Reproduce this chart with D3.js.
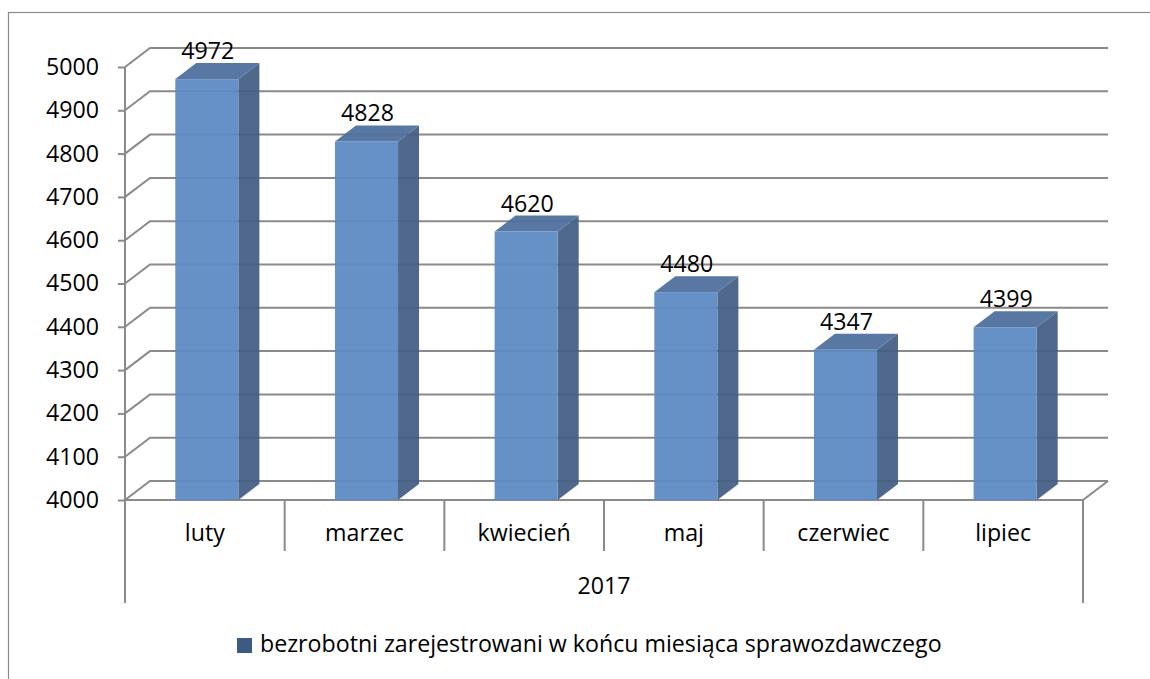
<!DOCTYPE html>
<html>
<head>
<meta charset="utf-8">
<script src="https://d3js.org/d3.v7.min.js"></script>
<style>
  body { margin: 0; background: #fff; }
  text { font-family: "Open Sans", Lato, sans-serif; fill: #000; }
</style>
</head>
<body>
<div id="chart"></div>
<script>
// data
var months = ["luty", "marzec", "kwiecień", "maj", "czerwiec", "lipiec"];
var values = [4972, 4828, 4620, 4480, 4347, 4399];
var yTicks = [4000, 4100, 4200, 4300, 4400, 4500, 4600, 4700, 4800, 4900, 5000];
var groupLabel = "2017";
var seriesName = "bezrobotni zarejestrowani w końcu miesiąca sprawozdawczego";

var W = 1150, H = 679;
var wallDx = 25, wallDy = -19;   // depth of the 3d floor / walls
var barDx = 21, barDy = -16;     // depth of each column
var grid = "#8a8a8a";
var fs = "23.2px";

var svg = d3.select("#chart").append("svg")
    .attr("width", W)
    .attr("height", H);

// outer frame (runs off the right and bottom edge)
svg.append("rect")
    .attr("x", 8.5).attr("y", 12.5)
    .attr("width", 1300).attr("height", 800)
    .attr("fill", "#fff")
    .attr("stroke", "#8c8c8c")
    .attr("stroke-width", 1.2);

var x = d3.scaleBand()
    .domain(months)
    .range([125, 1083]);

var y = d3.scaleLinear()
    .domain([4000, 5000])
    .range([500, 67]);

var bw = x.bandwidth();

// back wall gridlines with the diagonal on the side wall
var gl = svg.append("g")
    .attr("fill", "none")
    .attr("stroke", grid)
    .attr("stroke-width", 2);

gl.selectAll("path.grid")
  .data(yTicks)
  .enter()
  .append("path")
    .attr("class", "grid")
    .attr("d", function(t) {
      var yy = y(t);
      return "M" + x.range()[0] + "," + yy +
             "L" + (x.range()[0] + wallDx) + "," + (yy + wallDy) +
             "L" + (x.range()[1] + wallDx) + "," + (yy + wallDy);
    });

// floor front edge and right diagonal
gl.append("path")
    .attr("d", "M" + x.range()[0] + "," + y(4000) +
               "L" + x.range()[1] + "," + y(4000) +
               "L" + (x.range()[1] + wallDx) + "," + (y(4000) + wallDy));

// value axis
var yAxis = d3.axisLeft(y)
    .tickValues(yTicks)
    .tickSize(7)
    .tickSizeOuter(0)
    .tickPadding(19)
    .tickFormat(d3.format("d"));

var ya = svg.append("g")
    .attr("transform", "translate(125,0)")
    .call(yAxis);

ya.select(".domain").remove();
ya.selectAll(".tick line").attr("stroke", grid).attr("stroke-width", 2);
ya.selectAll(".tick text")
    .style("font-size", fs)
    .style("font-family", "'Open Sans', Lato, sans-serif")
    .attr("fill", "#000");

// columns
var bars = svg.append("g").selectAll("g.bar")
  .data(values)
  .enter()
  .append("g")
    .attr("class", "bar");

function left(d, i) { return x(months[i]) + bw * 0.315; }
function right(d, i) { return x(months[i]) + bw * 0.71; }

bars.append("path")
    .attr("fill", "#465f86")
    .attr("fill-opacity", 0.94)
    .attr("d", function(d, i) {
      var r = right(d, i), t = y(d), b = y(4000);
      return "M" + r + "," + t + "L" + (r + barDx) + "," + (t + barDy) +
             "L" + (r + barDx) + "," + (b + barDy) + "L" + r + "," + b + "Z";
    });

bars.append("path")
    .attr("fill", "#4e6f9c")
    .attr("fill-opacity", 0.94)
    .attr("d", function(d, i) {
      var l = left(d, i), r = right(d, i), t = y(d);
      return "M" + l + "," + t + "L" + (l + barDx) + "," + (t + barDy) +
             "L" + (r + barDx) + "," + (t + barDy) + "L" + r + "," + t + "Z";
    });

bars.append("rect")
    .attr("fill", "#5b8ac4")
    .attr("fill-opacity", 0.94)
    .attr("x", left)
    .attr("y", function(d) { return y(d); })
    .attr("width", function(d, i) { return right(d, i) - left(d, i); })
    .attr("height", function(d) { return y(4000) - y(d); });

// value labels
bars.append("text")
    .attr("text-anchor", "middle")
    .style("font-size", fs)
    .attr("x", function(d, i) { return (left(d, i) + right(d, i)) / 2 + 1; })
    .attr("y", function(d) { return y(d) + barDy - 4; })
    .text(function(d) { return d; });

// category axis: separators, labels, group line
var ax = svg.append("g")
    .attr("stroke", grid)
    .attr("stroke-width", 2);

ax.append("line")
    .attr("x1", x.range()[0]).attr("x2", x.range()[0])
    .attr("y1", y(5000)).attr("y2", 603);

ax.append("line")
    .attr("x1", x.range()[1]).attr("x2", x.range()[1])
    .attr("y1", y(4000)).attr("y2", 603);

ax.selectAll("line.sep")
  .data(months.slice(1))
  .enter()
  .append("line")
    .attr("class", "sep")
    .attr("x1", function(m) { return x(m); })
    .attr("x2", function(m) { return x(m); })
    .attr("y1", y(4000))
    .attr("y2", 551);

svg.append("g").selectAll("text")
  .data(months)
  .enter()
  .append("text")
    .attr("text-anchor", "middle")
    .style("font-size", fs)
    .attr("x", function(m) { return x(m) + bw / 2; })
    .attr("y", 541)
    .text(function(m) { return m; });

svg.append("text")
    .attr("text-anchor", "middle")
    .style("font-size", fs)
    .attr("x", (x.range()[0] + x.range()[1]) / 2)
    .attr("y", 594)
    .text(groupLabel);

// legend
svg.append("rect")
    .attr("x", 237).attr("y", 638)
    .attr("width", 15).attr("height", 15)
    .attr("fill", "#3d5a83");

svg.append("text")
    .attr("x", 260)
    .attr("y", 652)
    .style("font-size", fs)
    .text(seriesName);
</script>
</body>
</html>
